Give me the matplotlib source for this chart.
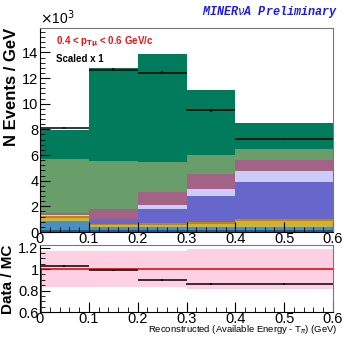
import numpy as np
import matplotlib
matplotlib.use("Agg")
import matplotlib.pyplot as plt
from matplotlib.ticker import MultipleLocator, FuncFormatter

plt.rcParams['font.family'] = ['Liberation Sans', 'DejaVu Sans']

# bin edges (GeV)
bin_edges = [0.0, 0.1, 0.2, 0.3, 0.4, 0.6]

# cumulative stack tops (x10^3 events / GeV), bottom -> top
stack_tops = [
    [0.15, 0.15, 0.15, 0.15, 0.15],   # dark blue
    [0.88, 0.38, 0.38, 0.38, 0.38],   # steel blue
    [0.95, 0.45, 0.45, 0.47, 0.47],   # yellow-green
    [1.08, 0.56, 0.58, 0.66, 0.83],   # gold
    [1.22, 0.65, 0.68, 0.80, 0.99],   # dark orange
    [1.27, 0.98, 1.77, 2.78, 3.87],   # purple
    [1.32, 1.05, 2.10, 3.37, 4.72],   # lavender
    [1.48, 1.77, 3.11, 4.49, 5.63],   # mauve
    [5.68, 5.50, 5.45, 5.97, 6.46],   # sage green
    [7.95, 12.80, 13.90, 11.10, 8.50],  # dark green
]
layer_colors = ["#1b5a86", "#4a8fc0", "#bdb95a", "#d2b22c", "#c08808",
                "#6767cb", "#ccccfa", "#a36386", "#699e6b", "#007b5c"]

data_vals = [8.10, 12.65, 12.40, 9.47, 7.24]
data_errs = [0.10, 0.12, 0.12, 0.10, 0.07]

ratio_vals = [1.03, 0.99, 0.90, 0.86, 0.86]
ratio_errs = [0.012, 0.008, 0.008, 0.008, 0.008]
band_lo = [0.83, 0.83, 0.83, 0.815, 0.815]
band_hi = [1.17, 1.17, 1.17, 1.185, 1.185]

W, H = 344, 337
fig = plt.figure(figsize=(W/100, H/100), dpi=100)
L, R = 40/W, 333/W
ax = fig.add_axes([L, 1-232/H, R-L, (232-28)/H])
axr = fig.add_axes([L, 1-312/H, R-L, (312-245)/H])

edges = np.array(bin_edges)
widths = np.diff(edges)
centers = edges[:-1] + widths/2

prev = np.zeros(len(widths))
for top, col in zip(stack_tops, layer_colors):
    top = np.array(top)
    ax.bar(edges[:-1], top-prev, width=widths, bottom=prev, align='edge',
           color=col, edgecolor='none', linewidth=0)
    prev = top

ax.errorbar(centers, data_vals, xerr=widths/2, yerr=data_errs, fmt='none',
            ecolor='black', elinewidth=1.1, capsize=0)

ax.set_xlim(0, 0.6)
ax.set_ylim(0, 15.9)
ax.yaxis.set_major_locator(MultipleLocator(2))
ax.yaxis.set_minor_locator(MultipleLocator(0.4))
ax.xaxis.set_major_locator(MultipleLocator(0.1))
ax.xaxis.set_minor_locator(MultipleLocator(0.02))
for a in (ax, axr):
    a.tick_params(direction='in', which='major', length=7, width=0.8,
                  labelsize=10.5, top=False, right=False, pad=1)
    a.tick_params(direction='in', which='minor', length=3.5, width=0.6,
                  top=False, right=False)
    for s in ['right', 'top']:
        a.spines[s].set_color('#777777')
    a.xaxis.set_major_formatter(FuncFormatter(lambda v, p: '%g' % round(v, 3)))
ax.tick_params(axis='x', pad=0)
axr.tick_params(axis='x', pad=0)
ax.yaxis.set_major_formatter(FuncFormatter(lambda v, p: '%d' % v))

ax.set_ylabel('N Events / GeV', fontsize=12, fontweight='bold', labelpad=2,
              loc='top')
ax.text(0.0, 1.005, r'$\times$10$^3$', transform=ax.transAxes, fontsize=10,
        ha='left', va='bottom')
ax.text(0.055, 0.93, r'0.4 < p$_{\mathbf{T\mu}}$ < 0.6 GeV/c', transform=ax.transAxes,
        fontsize=7, color='#ee1111', fontweight='bold', ha='left', va='center')
ax.text(0.055, 0.85, 'Scaled x 1', transform=ax.transAxes, fontsize=7,
        fontweight='bold', ha='left', va='center')
fig.text(338/W, 1-12/H, r'MINER$\nu$A Preliminary', fontsize=8.5, color='#1a1aee',
         family=['Liberation Mono', 'DejaVu Sans Mono'], fontweight='bold',
         style='italic', ha='right', va='center')

# ratio panel
for i in range(len(widths)):
    axr.fill_between([edges[i], edges[i+1]], band_lo[i], band_hi[i],
                     color='#ffd0e4', linewidth=0)
axr.axhline(1.0, color='#dd0000', lw=1.1)
axr.plot([edges[0], edges[0]], [0.6, 1.0], color='#dd0000', lw=2)
axr.errorbar(centers, ratio_vals, xerr=widths/2, yerr=ratio_errs, fmt='none',
             ecolor='black', elinewidth=1.1, capsize=0)
axr.set_xlim(0, 0.6)
axr.set_ylim(0.6, 1.225)
axr.yaxis.set_major_locator(MultipleLocator(0.2))
axr.yaxis.set_minor_locator(MultipleLocator(0.05))
axr.xaxis.set_major_locator(MultipleLocator(0.1))
axr.xaxis.set_minor_locator(MultipleLocator(0.02))
axr.yaxis.set_major_formatter(FuncFormatter(lambda v, p: '%g' % round(v, 2)))
axr.set_ylabel('Data / MC', fontsize=11, fontweight='bold', labelpad=2, loc='top')
fig.text(1-6/W, 1-336.5/H, r'Reconstructed (Available Energy - T$_{\pi}$) (GeV)',
         ha='right', va='bottom', fontsize=6.8)

fig.savefig('out.png', dpi=100)
